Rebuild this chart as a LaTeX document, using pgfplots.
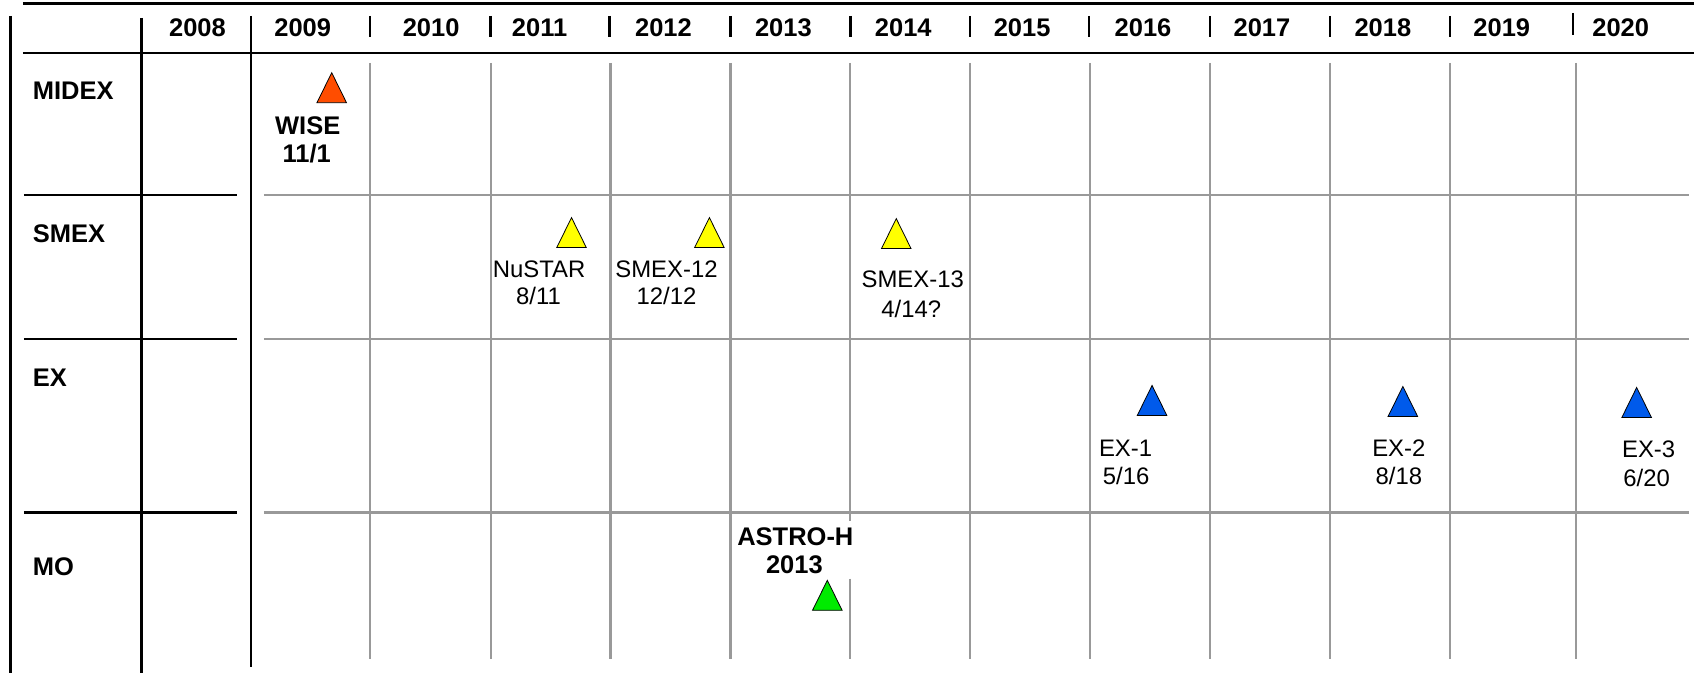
\documentclass[border=0pt]{standalone}
\usepackage{pgfplots}
\pgfplotsset{compat=1.18}
\usepackage{fontspec}
\setmainfont{Liberation Sans}
\definecolor{wiseor}{RGB}{255,77,0}
\definecolor{smexyel}{RGB}{255,255,0}
\definecolor{exblue}{RGB}{0,90,235}
\definecolor{mogreen}{RGB}{0,235,0}
\definecolor{gridgray}{RGB}{153,153,153}
\pgfdeclareplotmark{ttri}{%
  \pgfpathmoveto{\pgfpoint{0bp}{7.6bp}}%
  \pgfpathlineto{\pgfpoint{7.4bp}{-7.4bp}}%
  \pgfpathlineto{\pgfpoint{-7.4bp}{-7.4bp}}%
  \pgfpathclose
  \pgfusepathqfillstroke}
\pgfplotstableread{
x y
332 88
}\wisedata
\pgfplotstableread{
x y
572 233
710 233
897 234
}\smexdata
\pgfplotstableread{
x y
1153 401
1404 402
1638 403
}\exdata
\pgfplotstableread{
x y
828 596
}\modata
\begin{document}
\begin{tikzpicture}[
  bl/.style={font=\fontsize{12.8}{14}\selectfont\bfseries, anchor=base, inner sep=0pt},
  nl/.style={font=\fontsize{12}{14}\selectfont, anchor=base, inner sep=0pt},
  rl/.style={font=\fontsize{12.8}{14}\selectfont\bfseries, anchor=base west, inner sep=0pt}]
\begin{axis}[width=847.5bp, height=337bp, scale only axis,
  xmin=0, xmax=1695, ymin=0, ymax=674, y dir=reverse,
  axis lines=none, clip=false,
  tri/.style={only marks, mark=ttri,
    mark options={draw=black, line width=1.1bp}}]
\path (rel axis cs:0,0) rectangle (rel axis cs:1,1);
% black frame lines
\draw[black, line width=1.4bp] (axis cs:23,3.5) -- (axis cs:1695,3.5);
\draw[black, line width=1.2bp] (axis cs:23,53) -- (axis cs:1695,53);
\draw[black, line width=1.3bp] (axis cs:10.3,16) -- (axis cs:10.3,674);
\draw[black, line width=1.3bp] (axis cs:141.6,18) -- (axis cs:141.6,674);
\draw[black, line width=1.3bp] (axis cs:251.4,16) -- (axis cs:251.4,668);
\pgfplotsinvokeforeach{195,339,513}{
  \draw[black, line width=1.2bp] (axis cs:24,#1) -- (axis cs:237,#1);
  \draw[gridgray, line width=1.1bp] (axis cs:264,#1) -- (axis cs:1690,#1);
}
% gray verticals
\pgfplotsinvokeforeach{370,491,611,731,971,1091,1211,1331,1451,1577}{
  \draw[gridgray, line width=1.1bp] (axis cs:#1,63) -- (axis cs:#1,660);
}
\draw[gridgray, line width=1.1bp] (axis cs:851,63) -- (axis cs:851,521);
\draw[gridgray, line width=1.1bp] (axis cs:851,579) -- (axis cs:851,660);
% header separators
\pgfplotsinvokeforeach{370,491,610,731,851,971,1090,1211,1331,1451}{
  \draw[black, line width=1.2bp] (axis cs:#1,16) -- (axis cs:#1,37);
}
\draw[black, line width=1.2bp] (axis cs:1574,13) -- (axis cs:1574,35);
% year labels
\node[bl] at (axis cs:197.6,37) {2008};
\node[bl] at (axis cs:303,37) {2009};
\node[bl] at (axis cs:431.5,37) {2010};
\node[bl] at (axis cs:540,37) {2011};
\node[bl] at (axis cs:664,37) {2012};
\node[bl] at (axis cs:784,37) {2013};
\node[bl] at (axis cs:904,37) {2014};
\node[bl] at (axis cs:1023,37) {2015};
\node[bl] at (axis cs:1144,37) {2016};
\node[bl] at (axis cs:1263,37) {2017};
\node[bl] at (axis cs:1384,37) {2018};
\node[bl] at (axis cs:1503,37) {2019};
\node[bl] at (axis cs:1622,37) {2020};
% row labels
\node[rl] at (axis cs:32.5,100) {MIDEX};
\node[rl] at (axis cs:32.5,243) {SMEX};
\node[rl] at (axis cs:32.5,387) {EX};
\node[rl] at (axis cs:32.5,576) {MO};
% markers
\addplot[tri, mark options={fill=wiseor}] table {\wisedata};
\addplot[tri, mark options={fill=smexyel}] table {\smexdata};
\addplot[tri, mark options={fill=exblue}] table {\exdata};
\addplot[tri, mark options={fill=mogreen}] table {\modata};
% mission labels
\node[bl] at (axis cs:308,135) {WISE};
\node[bl] at (axis cs:307,163) {11/1};
\node[nl] at (axis cs:539.5,278) {NuSTAR};
\node[nl] at (axis cs:539,305) {8/11};
\node[nl] at (axis cs:667,278) {SMEX-12};
\node[nl] at (axis cs:667,305) {12/12};
\node[nl] at (axis cs:913.5,288) {SMEX-13};
\node[nl] at (axis cs:912,318) {4/14?};
\node[nl] at (axis cs:1126.5,457) {EX-1};
\node[nl] at (axis cs:1127,485) {5/16};
\node[nl] at (axis cs:1400,457) {EX-2};
\node[nl] at (axis cs:1400,485) {8/18};
\node[nl] at (axis cs:1650,458) {EX-3};
\node[nl] at (axis cs:1648,487) {6/20};
\node[bl] at (axis cs:796,546) {ASTRO-H};
\node[bl] at (axis cs:795,574) {2013};
\end{axis}
\end{tikzpicture}
\end{document}
